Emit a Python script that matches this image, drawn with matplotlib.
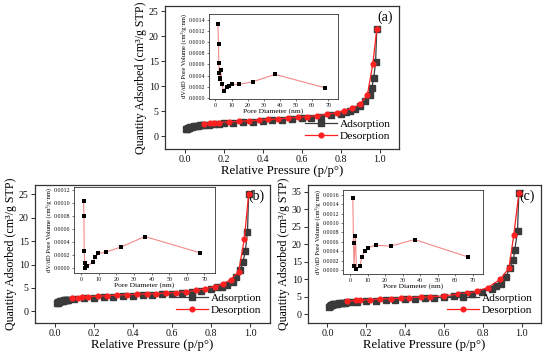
import matplotlib
matplotlib.use("Agg")
import matplotlib.pyplot as plt
from matplotlib.ticker import FormatStrFormatter

plt.rcParams['font.family'] = ['Liberation Serif', 'DejaVu Serif']

# ---------------- data ----------------
p_ads_a = [0.01,0.015,0.02,0.025,0.03,0.04,0.05,0.06,0.07,0.08,0.09,0.1,0.125,0.15,0.175,0.2,0.25,0.3,0.35,0.4,0.45,0.5,0.55,0.6,0.65,0.7,0.75,0.8,0.83,0.85,0.875,0.9,0.925,0.95,0.96,0.97,0.98,0.986]
v_ads_a = [1.4,1.55,1.65,1.75,1.82,1.92,2.0,2.07,2.13,2.2,2.25,2.3,2.38,2.48,2.55,2.62,2.75,2.87,2.98,3.1,3.2,3.32,3.45,3.6,3.75,3.95,4.2,4.5,4.8,5.1,5.5,6.0,7.0,8.3,9.6,11.6,14.8,21.4]
p_des_a = [0.986,0.966,0.938,0.9,0.86,0.82,0.78,0.73,0.68,0.63,0.58,0.53,0.48,0.43,0.38,0.33,0.28,0.23,0.175,0.15,0.13,0.1]
v_des_a = [21.4,14.5,8.3,6.4,5.6,5.15,4.7,4.4,4.15,3.95,3.8,3.65,3.5,3.38,3.25,3.12,3.0,2.9,2.78,2.7,2.62,2.5]

p_ads_b = [0.01,0.015,0.02,0.025,0.03,0.035,0.04,0.045,0.05,0.055,0.06,0.065,0.07,0.1,0.15,0.2,0.25,0.3,0.35,0.4,0.45,0.5,0.55,0.6,0.65,0.7,0.75,0.8,0.83,0.855,0.88,0.91,0.928,0.949,0.962,0.974,0.985,0.991]
v_ads_b = [1.7,1.85,1.95,2.05,2.1,2.17,2.22,2.27,2.32,2.36,2.4,2.43,2.46,2.6,2.75,2.9,3.02,3.12,3.22,3.32,3.42,3.5,3.6,3.72,3.85,4.05,4.35,4.7,5.1,5.3,5.7,6.3,7.3,8.9,10.6,12.9,16.9,25.1]
p_des_b = [0.991,0.969,0.94,0.9,0.86,0.82,0.77,0.72,0.67,0.62,0.57,0.52,0.47,0.42,0.37,0.32,0.27,0.22,0.17,0.14,0.12,0.09]
v_des_b = [25.1,15.5,8.5,6.75,5.9,5.3,4.85,4.45,4.2,4.0,3.9,3.8,3.72,3.63,3.55,3.45,3.35,3.25,3.1,3.0,2.92,2.82]

p_ads_c = [0.01,0.015,0.02,0.025,0.03,0.035,0.04,0.05,0.06,0.07,0.08,0.09,0.1,0.125,0.15,0.2,0.25,0.3,0.35,0.4,0.45,0.5,0.55,0.6,0.65,0.7,0.745,0.795,0.85,0.87,0.895,0.92,0.938,0.957,0.965,0.979,0.986]
v_ads_c = [2.2,2.4,2.55,2.7,2.8,2.88,2.95,3.05,3.15,3.22,3.3,3.35,3.4,3.5,3.6,3.75,3.88,4.0,4.12,4.25,4.38,4.52,4.68,4.88,5.1,5.4,5.7,6.4,7.3,8.0,8.7,10.6,13.3,15.4,18.4,23.9,34.6]
p_des_c = [0.986,0.96,0.935,0.89,0.825,0.77,0.72,0.67,0.6,0.53,0.48,0.42,0.38,0.33,0.27,0.22,0.17,0.145,0.1]
v_des_c = [34.6,22.8,13.2,10.0,7.6,6.6,6.0,5.7,5.3,5.0,4.9,4.75,4.6,4.45,4.35,4.2,4.05,3.95,3.7]

d_a = [1.5,1.9,2.1,2.3,2.7,2.9,3.3,3.9,5.0,6.9,8.3,10.4,14.3,23.3,37.0,68.0]
dv_a = [0.00132,0.00096,0.00062,0.00045,0.00035,0.00033,0.00049,0.00025,0.00013,0.00020,0.00021,0.00024,0.00024,0.00029,0.00042,0.00018]
d_b = [1.4,1.6,1.8,2.1,2.5,2.9,3.5,6.6,8.0,9.9,14.0,22.8,36.2,67.5]
dv_b = [0.00104,0.00081,0.00027,0.00009,0.0,0.00004,0.00003,0.00010,0.00017,0.00023,0.00025,0.00033,0.00049,0.00024]
d_c = [1.6,2.0,2.3,3.1,3.7,5.7,6.8,8.4,10.4,14.6,23.2,36.9,67.5]
dv_c = [0.00153,0.00058,0.00009,0.00073,0.00002,0.00010,0.00028,0.00041,0.00048,0.00053,0.00051,0.00065,0.00028]

x_ticks = [0.0, 0.2, 0.4, 0.6, 0.8, 1.0]
inset_x_ticks = [0, 10, 20, 30, 40, 50, 60, 70]

FW, FH = 550, 356

def rect(x0, y0, x1, y1):
    return [x0 / FW, 1 - y1 / FH, (x1 - x0) / FW, (y1 - y0) / FH]

FRAME = '#333333'

def style(ax, size, lw=0.9, length=3):
    for s in ax.spines.values():
        s.set_color(FRAME)
        s.set_linewidth(lw)
    ax.tick_params(direction='out', length=length, width=lw * 0.8, colors=FRAME,
                   labelsize=size, labelcolor='#111111', pad=1.5)

def panel(fig, mrect, irect, pa, va, pd, vd, d, dv, label, ylim, yticks, iylim, iyticks):
    ax = fig.add_axes(mrect)
    ax.plot(pa, va, '-', color='#3a3a3a', lw=0.9, marker='s', ms=3.8,
            mfc='#3a3a3a', mec='#3a3a3a', label='Adsorption', zorder=3)
    ax.plot(pd, vd, '-', color='#ff2020', lw=0.9, marker='o', ms=3.4,
            mfc='#ff2020', mec='#ff2020', label='Desorption', zorder=4)
    ax.set_xlim(-0.1, 1.1)
    ax.set_ylim(*ylim)
    ax.set_xticks(x_ticks)
    ax.xaxis.set_major_formatter(FormatStrFormatter('%.1f'))
    ax.set_yticks(yticks)
    style(ax, 7.2)
    ax.set_xlabel('Relative Pressure (p/p°)', fontsize=9.2, labelpad=0.5)
    ax.set_ylabel('Quantity Adsorbed (cm³/g STP)', fontsize=8.6, labelpad=1)
    ax.text(0.975, 0.965, label, transform=ax.transAxes, ha='right', va='top', fontsize=10)
    ax.legend(loc='lower right', bbox_to_anchor=(1.0, 0.0), frameon=False, fontsize=8.2,
              handlelength=2.8, handletextpad=0.3, labelspacing=0.15, borderaxespad=0.3,
              numpoints=1)

    ia = fig.add_axes(irect)
    ia.plot(d, dv, '-', color='#f28a8a', lw=0.8, marker='s', ms=2.4, mew=0,
            mfc='black', zorder=3)
    ia.set_xlim(-4, 76)
    ia.set_ylim(*iylim)
    ia.set_xticks(inset_x_ticks)
    ia.set_yticks(iyticks)
    ia.yaxis.set_major_formatter(FormatStrFormatter('%.4f'))
    style(ia, 4.3, lw=0.6, length=1.6)
    ia.tick_params(pad=1)
    ia.set_xlabel('Pore Diameter (nm)', fontsize=5.4, labelpad=0.5)
    ia.set_ylabel('dV/dD Pore Volume (cm³/g·nm)', fontsize=4.7, labelpad=1)
    return ax, ia

fig = plt.figure(figsize=(5.5, 3.56), dpi=100)

panel(fig, rect(165, 6, 399, 149), rect(209, 14, 338, 99),
      p_ads_a, v_ads_a, p_des_a, v_des_a, d_a, dv_a, '(a)',
      (-2.5, 26), [0, 5, 10, 15, 20, 25],
      (-0.00002, 0.0015), [0, 0.0002, 0.0004, 0.0006, 0.0008, 0.0010, 0.0012, 0.0014])

panel(fig, rect(35, 185, 270, 323), rect(74, 187, 215, 273),
      p_ads_b, v_ads_b, p_des_b, v_des_b, d_b, dv_b, '(b)',
      (-2.5, 27), [0, 5, 10, 15, 20, 25],
      (-0.00007, 0.00125), [0, 0.0002, 0.0004, 0.0006, 0.0008, 0.0010, 0.0012])

panel(fig, rect(308, 185, 541, 323), rect(343, 190, 483, 274),
      p_ads_c, v_ads_c, p_des_c, v_des_c, d_c, dv_c, '(c)',
      (-2.5, 37), [0, 5, 10, 15, 20, 25, 30, 35],
      (-0.00008, 0.0017), [0, 0.0002, 0.0004, 0.0006, 0.0008, 0.0010, 0.0012, 0.0014, 0.0016])

fig.savefig('out.png', dpi=100)
